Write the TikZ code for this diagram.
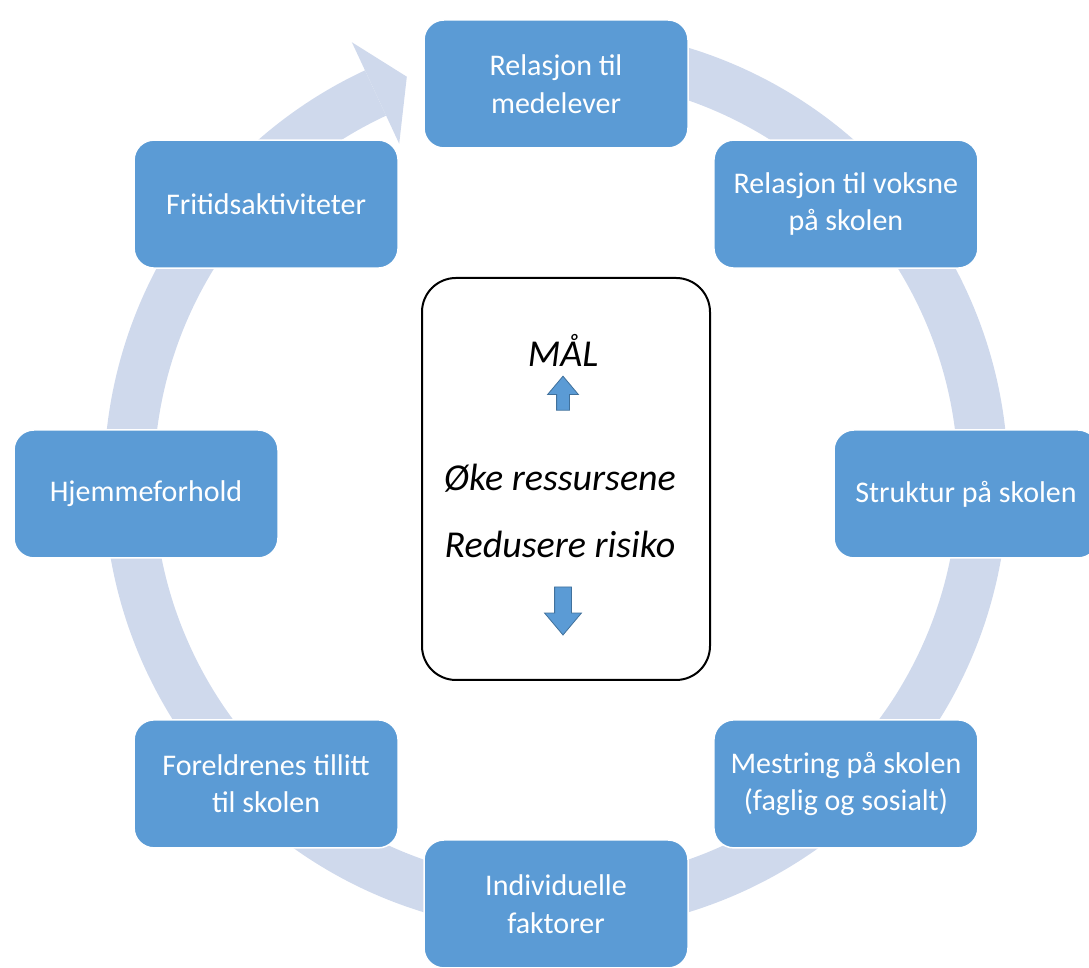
\documentclass[tikz,border=0pt]{standalone}
\usepackage{fontspec}
\setmainfont{Carlito}
\usetikzlibrary{shapes.arrows}

\definecolor{boxblue}{RGB}{91,155,213}
\definecolor{bandblue}{RGB}{207,217,236}
\definecolor{arrowline}{RGB}{65,113,156}

\begin{document}
\begin{tikzpicture}[
    x = 0.5pt,
    y = 0.5pt,
    stepbox/.style = {rounded corners=10pt, fill=boxblue, draw=white,
      line width=0.75pt, minimum width=132pt, minimum height=64pt,
      text=white, align=center, font=\fontsize{15}{18.75}\selectfont},
    goalbox/.style = {draw=black, line width=1pt, rounded corners=17pt,
      minimum width=144pt, minimum height=201pt},
    goaltext/.style = {font=\fontsize{19}{23}\selectfont\itshape},
    blockarrow/.style = {single arrow, fill=boxblue, draw=arrowline,
      line width=0.4pt, inner sep=0pt, single arrow tip angle=80},
    ]
    \useasboundingbox (0,0) rectangle (1089,968);
    \coordinate (mid) at (556, 474);
    \coordinate (hub) at (556, 488);
    % cycle band
    \fill[bandblue]
    ([shift={(80:452)}]hub) arc[start angle=80, end angle=-245, radius=452]
    -- ([shift={(-245:402)}]hub) arc[start angle=-245, end angle=80, radius=402]
    -- cycle;
    % band head
    \fill[bandblue] ([shift={(115:483)}]hub) -- ([shift={(110.3:430)}]hub)
    -- ([shift={(115:371)}]hub) -- cycle;
    % boxes round the ring
    \foreach \ang/\name/\txt in {
      90/med/{Relasjon til\\medelever},
      45/voks/{Relasjon til voksne\\på skolen},
      0/strukt/{Struktur på skolen},
      -45/mestr/{Mestring på skolen\\(faglig og sosialt)},
      -90/indiv/{Individuelle\\faktorer},
      -135/foreld/{Foreldrenes tillitt\\til skolen},
      180/hjem/{Hjemmeforhold},
      135/fritid/{Fritidsaktiviteter}}
    \node[stepbox] (\name) at ([shift={(\ang:410)}]mid) {\txt};
    % goal box
    \node[goalbox] (goal) at (566, 489) {};
    \node[goaltext] (maal) at (563, 618) {MÅL};
    \node[blockarrow, rotate=90, minimum height=17pt, inner ysep=3pt,
      single arrow head extend=4.5pt] (upar) at (563, 571) {};
    \node[goaltext] (oke) at (560, 490) {Øke ressursene};
    \node[goaltext] (red) at (560, 424) {Redusere risiko};
    \node[blockarrow, rotate=-90, minimum height=24pt, inner ysep=4pt,
      single arrow head extend=5pt] (downar) at (563, 362) {};
  \end{tikzpicture}
\end{document}
